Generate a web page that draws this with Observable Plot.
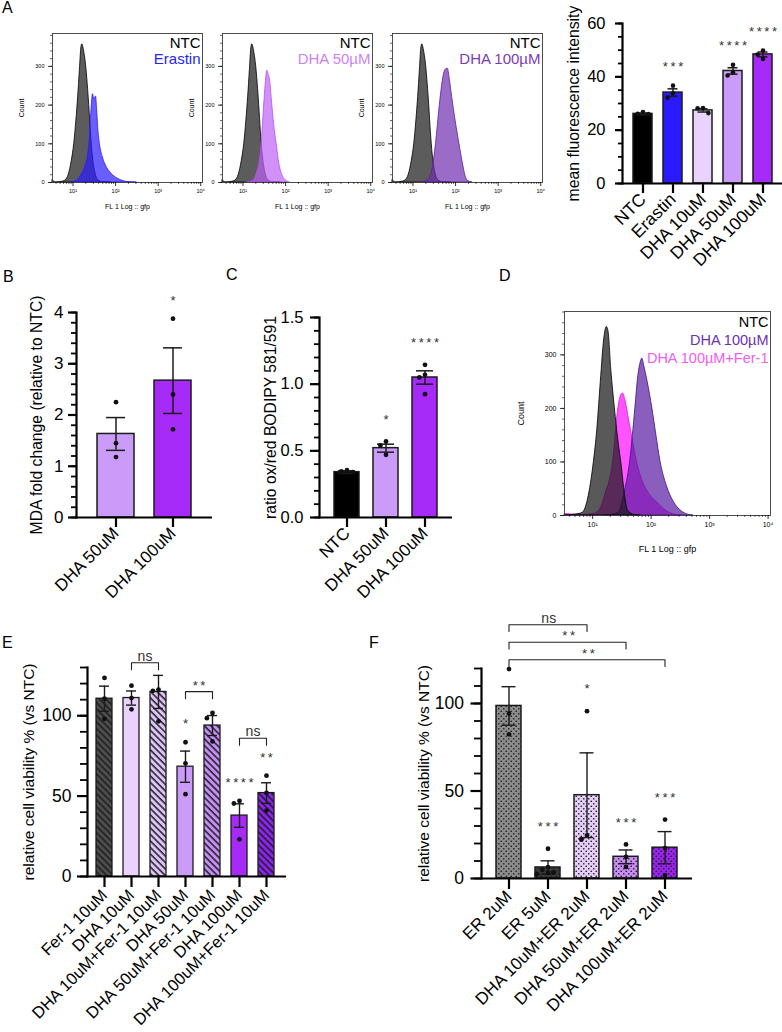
<!DOCTYPE html>
<html lang="en">
<head>
<meta charset="utf-8">
<title>DHA, lipid peroxidation and cell viability</title>
<script src="https://cdn.jsdelivr.net/npm/d3@7"></script>
<script src="https://cdn.jsdelivr.net/npm/@observablehq/plot@0.6"></script>
<style>
  html, body { margin: 0; background: #fff; }
  #fig { position: relative; width: 782px; height: 1032px; overflow: hidden; font-family: "Liberation Sans", Arial, sans-serif; }
  .panel { position: absolute; }
  .panel svg { overflow: visible; }
  .letter { position: absolute; font-size: 16px; line-height: 1; color: #000; }
</style>
</head>
<body>
<div id="fig"></div>
<script>
const FONT = '"Liberation Sans", Arial, Helvetica, sans-serif';

// ---------- Flow cytometry histograms: [FL1 intensity, event count] ----------
const ntcA = [[3.35,6],[3.6,2],[3.98,0],[5.62,2],[6.61,5],[7.94,20],[9.33,55],[10.7,100],[12.0,160],[13.2,220],[14.5,290],[15.8,350],[16.6,357],[17.8,345],[20.4,300],[24.0,200],[26.3,130],[28.8,75],[31.6,40],[35.5,15],[39.8,5],[50.1,1],[79.4,0]];
const erastinA = [[8.91,0],[12.6,5],[15.8,20],[20.0,45],[22.9,75],[25.1,120],[26.9,180],[29.5,228],[31.6,215],[34.7,222],[37.2,180],[39.8,130],[42.7,100],[50.1,65],[63.1,38],[81.3,22],[112,10],[148,4],[200,1],[316,0]];
const dha50A = [[12.6,0],[17.8,5],[21.4,25],[25.1,60],[27.5,100],[30.2,170],[33.9,250],[37.2,289],[39.8,280],[42.7,268],[47.9,210],[53.7,150],[61.7,100],[70.8,50],[83.2,20],[100,6],[126,0]];
const dha100A = [[15.8,0],[22.4,5],[28.2,30],[34.7,100],[42.7,200],[51.3,270],[58.9,292],[66.1,294],[72.4,270],[83.2,220],[100,160],[123,100],[148,50],[170,18],[191,5],[251,0]];

const ntcD = [[3.31,0],[5.25,2],[6.76,5],[8.32,30],[10.5,100],[12.0,160],[13.8,250],[15.8,330],[17.4,352],[18.6,345],[20.9,270],[24.0,200],[27.5,140],[31.6,90],[35.5,40],[40.7,8],[52.5,1],[66.1,0]];
const dha100D = [[16.6,0],[27.5,5],[34.7,40],[43.7,100],[53.7,200],[60.3,260],[66.1,285],[70.8,293],[75.9,280],[87.1,250],[105,200],[123,150],[145,100],[186,55],[245,25],[331,8],[417,2],[525,0]];
const ferD = [[3.4,3],[4.2,2],[6.6,1],[10.5,3],[13.2,10],[16.6,40],[22.4,100],[27.5,200],[30.9,225],[33.1,228],[36.3,215],[41.7,180],[46.8,150],[57.5,100],[74.1,60],[93.3,40],[126,25],[166,12],[245,2],[331,0]];

const flowDomain = [3.3, 11000];
const flowMajor = [10, 100, 1000, 10000];
const countTicks = [0, 100, 200, 300];

// ---------- A (right): mean fluorescence intensity ----------
const mfiGroups = ["NTC", "Erastin", "DHA 10uM", "DHA 50uM", "DHA 100uM"];
const mfiMean = [26.1, 34.1, 27.4, 42.2, 48.4];
const mfiSem = [0.3, 1.4, 0.6, 1.2, 0.9];
const mfiPoints = [[26.8, 26.0, 26.1], [36.7, 32.2, 33.8], [28.3, 26.4, 28.2], [44.5, 40.5, 41.7], [49.9, 46.7, 48.4]];
const mfiStars = ["", "***", "", "****", "****"];

// ---------- B: MDA ----------
const mdaGroups = ["DHA 50uM", "DHA 100uM"];
const mdaMean = [1.63, 2.67];
const mdaSem = [0.32, 0.64];
const mdaPoints = [[2.25, 1.45, 1.18], [3.88, 2.40, 1.72]];
const mdaStars = ["", "*"];

// ---------- C: BODIPY 581/591 ratio ----------
const bodipyGroups = ["NTC", "DHA 50uM", "DHA 100uM"];
const bodipyMean = [0.34, 0.52, 1.05];
const bodipySem = [0.01, 0.03, 0.05];
const bodipyPoints = [[0.355, 0.34, 0.345], [0.57, 0.54, 0.47], [1.145, 1.07, 1.05, 0.925]];
const bodipyStars = ["", "*", "****"];

// ---------- E: viability with Fer-1 ----------
const ferGroups = ["Fer-1 10uM", "DHA 10uM", "DHA 10uM+Fer-1 10uM", "DHA 50uM", "DHA 50uM+Fer-1 10uM", "DHA 100uM", "DHA 100uM+Fer-1 10uM"];
const ferMean = [110.6, 111.0, 114.8, 68.3, 93.9, 37.9, 51.9];
const ferSem = [7.8, 4.4, 10.3, 9.7, 6.2, 7.3, 6.4];
const ferPoints = [[123.5, 110.6, 98.1], [118.7, 111.0, 104.0], [116.3, 115.5, 96.5], [83.5, 70.4, 51.2], [101.7, 98.5, 84.0], [47.0, 45.4, 23.1], [62.7, 52.0, 41.0]];
const ferStars = ["", "", "", "*", "", "****", "**"];
const ferBrackets = [
  {from: "DHA 10uM", to: "DHA 10uM+Fer-1 10uM", y: 133, label: "ns"},
  {from: "DHA 50uM", to: "DHA 50uM+Fer-1 10uM", y: 115, label: "**"},
  {from: "DHA 100uM", to: "DHA 100uM+Fer-1 10uM", y: 86, label: "ns"}
];

// ---------- F: viability with erastin ----------
const erGroups = ["ER 2uM", "ER 5uM", "DHA 10uM+ER 2uM", "DHA 50uM+ER 2uM", "DHA 100uM+ER 2uM"];
const erMean = [98.6, 6.3, 47.6, 12.4, 17.6];
const erSem = [11.0, 3.8, 24.2, 3.9, 9.2];
const erPoints = [[119.7, 94.3, 82.4], [17.0, 6.5, 5.0, 3.5, 2.5, 3.2], [95.6, 24.6, 22.2], [19.5, 12.3, 6.6], [33.7, 17.4, 1.9]];
const erStars = ["", "***", "*", "***", "***"];
const erBrackets = [
  {from: "ER 2uM", to: "DHA 10uM+ER 2uM", y: 145, label: "ns"},
  {from: "ER 2uM", to: "DHA 50uM+ER 2uM", y: 135, label: "**"},
  {from: "ER 2uM", to: "DHA 100uM+ER 2uM", y: 125, label: "**"}
];

// ---------- styles ----------
const mfiStyle = [["#000000", "solid"], ["#2b1aff", "solid"], ["#e9d3fc", "solid"], ["#cb9bfa", "solid"], ["#a62bf8", "solid"]];
const mdaStyle = [["#cb9bfa", "solid"], ["#a62bf8", "solid"]];
const bodipyStyle = [["#000000", "solid"], ["#cb9bfa", "solid"], ["#a62bf8", "solid"]];
const ferStyle = [["#4d4d4d", "hatch"], ["#e9d3fc", "solid"], ["#dec4f8", "hatch"], ["#cb9bfa", "solid"], ["#c48ff6", "hatch"], ["#a62bf8", "solid"], ["#8c24ef", "hatch"]];
const erStyle = [["#8c8c8c", "dots"], ["#3a3a3a", "dots"], ["#e7cffb", "dots"], ["#c98cf6", "dots"], ["#9a22f0", "dots"]];

const fig = document.getElementById("fig");
function place(node, left, top) {
  const d = document.createElement("div");
  d.className = "panel";
  d.style.left = left + "px";
  d.style.top = top + "px";
  d.appendChild(node);
  fig.appendChild(d);
}
function letter(t, left, top) {
  const d = document.createElement("div");
  d.className = "letter";
  d.textContent = t;
  d.style.left = left + "px";
  d.style.top = top + "px";
  fig.appendChild(d);
}

// pattern fills for hatched (Fer-1) and dotted (erastin) bars
const patternDefs = [];
function barFill([color, kind], key) {
  if (kind === "solid") return color;
  const id = `${kind}-${key}`;
  if (kind === "hatch") {
    patternDefs.push(`<pattern id="${id}" patternUnits="userSpaceOnUse" width="4.6" height="4.6" patternTransform="rotate(-45)"><rect width="4.6" height="4.6" fill="${color}"/><line x1="1" y1="0" x2="1" y2="4.6" stroke="#1c1c1c" stroke-width="1.5"/></pattern>`);
  } else {
    patternDefs.push(`<pattern id="${id}" patternUnits="userSpaceOnUse" width="5" height="5"><rect width="5" height="5" fill="${color}"/><circle cx="1.25" cy="1.25" r="0.85" fill="#222"/><circle cx="3.75" cy="3.75" r="0.85" fill="#222"/></pattern>`);
  }
  return `url(#${id})`;
}

const spacedStars = s => /^\*+$/.test(s) ? s.split("").join("\u2009") : s;

// spread replicate dots sideways when they would overlap
function spreadDots(groups, points, ppu, r) {
  const out = [];
  groups.forEach((g, i) => {
    const placed = [];
    [...points[i]].sort((a, b) => b - a).forEach(v => {
      const used = new Set(placed.filter(p => Math.abs(p.v - v) * ppu < 2 * r + 0.6).map(p => p.slot));
      const slot = [0, -1, 1, -2, 2, -3, 3].find(s => !used.has(s));
      const d = {group: g, v, slot};
      placed.push(d);
      out.push(d);
    });
  });
  return out;
}

function flowPlot(o) {
  const sup = {1: "\u00b9", 2: "\u00b2", 3: "\u00b3", 4: "\u2074"};
  const minors = [];
  for (const base of [1, 10, 100, 1000]) for (let k = 2; k <= 9; k++) if (base * k >= flowDomain[0]) minors.push(base * k);
  const marks = o.series.map(s => Plot.areaY(s.data, {
    x: d => d[0], y: d => d[1], fill: s.fill, fillOpacity: s.opacity,
    stroke: s.stroke, strokeWidth: 0.8, curve: "monotone-x"
  }));
  marks.push(
    Plot.frame({stroke: "#3a3a3a", strokeWidth: 0.9}),
    Plot.axisY(d3.range(0, o.yMax, 20), {tickSize: 2, tickFormat: () => "", strokeWidth: 0.6, label: null}),
    Plot.axisY(countTicks, {tickSize: 4, tickPadding: 4, fontSize: o.tickFont, strokeWidth: 0.8, label: null}),
    Plot.axisX(minors, {tickSize: 2, tickFormat: () => "", strokeWidth: 0.6, label: null}),
    Plot.axisX(flowMajor, {tickSize: 4, tickPadding: 3, fontSize: o.tickFont, strokeWidth: 0.8, label: null,
      tickFormat: d => "10" + sup[Math.round(Math.log10(d))]}),
    Plot.text(["Count"], {text: d => d, frameAnchor: "left", textAnchor: "middle", rotate: -90, dx: o.countDx, fontSize: o.labelFont}),
    Plot.text(["FL 1 Log :: gfp"], {text: d => d, frameAnchor: "bottom", textAnchor: "middle", dy: o.xLabelDy, fontSize: o.labelFont})
  );
  o.legend.forEach((l, i) => marks.push(Plot.text([l.text], {
    text: d => d, frameAnchor: "top-right", textAnchor: "end", lineAnchor: "top",
    dx: -2, dy: o.legendTop + i * o.legendStep, fill: l.color, fontSize: o.legendFont
  })));
  return Plot.plot({
    width: o.width, height: o.height,
    marginTop: o.mt, marginRight: o.mr, marginBottom: o.mb, marginLeft: o.ml,
    style: {background: "transparent", fontFamily: FONT, color: "#000", overflow: "visible"},
    x: {type: "log", domain: flowDomain, axis: null},
    y: {domain: [0, o.yMax], axis: null},
    marks
  });
}

function barPanel(o) {
  const [y0, y1] = o.yDomain;
  const ppu = (o.height - o.mt - o.mb) / (y1 - y0);
  const n = o.groups.length;
  const step = (o.width - o.ml) / (n - o.pi + 2 * o.po);
  const rows = o.groups.map((g, i) => ({
    group: g, mean: o.means[i], lo: o.means[i] - o.sems[i], hi: o.means[i] + o.sems[i],
    fill: barFill(o.styles[i], `${o.key}-${i}`), star: spacedStars(o.stars[i]),
    top: Math.max(o.means[i] + o.sems[i], ...o.points[i])
  }));
  const dots = spreadDots(o.groups, o.points, ppu, o.r);
  const slots = [...new Set(dots.map(d => d.slot))];
  const ink = "#1b1b1b";
  const marks = [
    Plot.barY(rows, {x: "group", y: "mean", fill: "fill", stroke: ink, strokeWidth: o.barStroke}),
    Plot.ruleX(rows, {x: "group", y1: "lo", y2: "hi", stroke: ink, strokeWidth: o.errStroke}),
    Plot.tickY(rows, {x: "group", y: "hi", stroke: ink, strokeWidth: o.errStroke, insetLeft: o.capInset, insetRight: o.capInset}),
    Plot.tickY(rows, {x: "group", y: "lo", stroke: ink, strokeWidth: o.errStroke, insetLeft: o.capInset, insetRight: o.capInset}),
    ...slots.map(s => Plot.dot(dots.filter(d => d.slot === s), {x: "group", y: "v", r: o.r, fill: "#111", dx: s * (2 * o.r + 0.8)})),
    Plot.ruleY([y0], {stroke: "#000", strokeWidth: 2.2}),
    Plot.frame({anchor: "left", stroke: "#000", strokeWidth: 2.2}),
    Plot.axisY(d3.range(y0, y1 + 1e-9, o.minor), {tickSize: o.minorSize, tickFormat: () => "", strokeWidth: 1.8, label: null}),
    Plot.axisY(o.major, {tickSize: o.majorSize, tickPadding: o.tickPad, fontSize: o.tickFont, strokeWidth: 2.2, label: null, tickFormat: o.fmt}),
    Plot.axisX({tickSize: o.xTick, tickPadding: o.xPad, tickRotate: -45, fontSize: o.xFont, strokeWidth: 2.2, label: null}),
    Plot.text([o.yLabel], {text: d => d, frameAnchor: "left", textAnchor: "middle", rotate: -90, dx: o.yLabelDx, fontSize: o.yLabelFont}),
    Plot.text(rows.filter(d => d.star), {x: "group", y: "top", text: "star", dy: o.starDy, fontSize: 13, fill: "#333"})
  ];
  if (o.brackets) {
    const drop = o.bracketDrop;
    const lines = o.brackets.flatMap((b, k) => [
      {k, x: b.from, y: b.y - drop}, {k, x: b.from, y: b.y}, {k, x: b.to, y: b.y}, {k, x: b.to, y: b.y - drop}
    ]);
    marks.push(Plot.line(lines, {x: "x", y: "y", z: "k", stroke: "#222", strokeWidth: 1.1}));
    o.brackets.forEach(b => {
      const span = o.groups.indexOf(b.to) - o.groups.indexOf(b.from);
      marks.push(Plot.text([b], {
        x: "from", y: "y", text: d => spacedStars(d.label), dx: span * step / 2, dy: -2,
        lineAnchor: "bottom", fontSize: b.label === "ns" ? 14 : 13, fill: "#333"
      }));
    });
  }
  return Plot.plot({
    width: o.width, height: o.height,
    marginTop: o.mt, marginRight: 0, marginBottom: o.mb, marginLeft: o.ml,
    style: {background: "transparent", fontFamily: FONT, color: "#000", overflow: "visible"},
    x: {domain: o.groups, paddingInner: o.pi, paddingOuter: o.po, align: o.align, axis: null},
    y: {domain: o.yDomain, axis: null},
    color: {type: "identity"},
    marks
  });
}

// ---------- A: histograms ----------
const histA = {width: 210, height: 200, mt: 13, mr: 8, mb: 38, ml: 52, yMax: 385,
  tickFont: 5.5, labelFont: 7, countDx: -31, xLabelDy: 26, legendFont: 15, legendTop: 4, legendStep: 16};
const ntcSeries = {data: ntcA, fill: "#5c5c5c", opacity: 1, stroke: "#000"};
place(flowPlot({...histA, series: [ntcSeries, {data: erastinA, fill: "#2b1aff", opacity: 0.7, stroke: "#2b1aff"}],
  legend: [{text: "NTC", color: "#000"}, {text: "Erastin", color: "#2323ff"}]}), 0, 20);
place(flowPlot({...histA, series: [ntcSeries, {data: dha50A, fill: "#be62f5", opacity: 0.7, stroke: "#b84df2"}],
  legend: [{text: "NTC", color: "#000"}, {text: "DHA 50\u00b5M", color: "#cf7ff7"}]}), 170, 20);
place(flowPlot({...histA, series: [ntcSeries, {data: dha100A, fill: "#6f2db0", opacity: 0.7, stroke: "#5a1f9a"}],
  legend: [{text: "NTC", color: "#000"}, {text: "DHA 100\u00b5M", color: "#7b3bb5"}]}), 340, 20);

// ---------- D: histogram (treated samples underneath, NTC translucent on top) ----------
place(flowPlot({width: 280, height: 280, mt: 21, mr: 10, mb: 55, ml: 64, yMax: 381,
  tickFont: 7, labelFont: 9, countDx: -43, xLabelDy: 36, legendFont: 14.5, legendTop: 5, legendStep: 18,
  series: [
    {data: ferD, fill: "#ff0cff", opacity: 0.7, stroke: "#e010e0"},
    {data: dha100D, fill: "#58199f", opacity: 0.7, stroke: "#3d1080"},
    {data: ntcD, fill: "#191919", opacity: 0.72, stroke: "#000"}
  ],
  legend: [{text: "NTC", color: "#000"}, {text: "DHA 100\u00b5M", color: "#6e31b0"}, {text: "DHA 100\u00b5M+Fer-1", color: "#f25cf2"}]
}), 500, 290);

// ---------- A: MFI bars ----------
place(barPanel({key: "mfi", groups: mfiGroups, means: mfiMean, sems: mfiSem, points: mfiPoints, stars: mfiStars, styles: mfiStyle,
  width: 242, height: 290, mt: 23, mb: 107, ml: 82, pi: 0.367, po: 0.35, align: 0.5,
  yDomain: [0, 60], major: [0, 20, 40, 60], minor: 5, majorSize: 7, minorSize: 4, tickPad: 10, tickFont: 16.5,
  fmt: d3.format("d"),
  xTick: 10, xPad: 3, xFont: 17.5, yLabel: "mean fluorescence intensity", yLabelDx: -49, yLabelFont: 15.8,
  r: 2.3, barStroke: 1.5, errStroke: 1.5, capInset: 4.5, starDy: -19}), 540, 0);

// ---------- B ----------
place(barPanel({key: "mda", groups: mdaGroups, means: mdaMean, sems: mdaSem, points: mdaPoints, stars: mdaStars, styles: mdaStyle,
  width: 212, height: 340, mt: 32, mb: 103, ml: 76, pi: 0.345, po: 0.345, align: 0.5,
  yDomain: [0, 4], major: [0, 1, 2, 3, 4], minor: 0.2, majorSize: 8, minorSize: 5, tickPad: 5, tickFont: 17,
  fmt: d3.format("d"),
  xTick: 10, xPad: 3, xFont: 17, yLabel: "MDA fold change (relative to NTC)", yLabelDx: -39.5, yLabelFont: 15.7,
  r: 2.4, barStroke: 1.5, errStroke: 1.5, capInset: 9, starDy: -18}), 0, 280);

// ---------- C ----------
place(barPanel({key: "bodipy", groups: bodipyGroups, means: bodipyMean, sems: bodipySem, points: bodipyPoints, stars: bodipyStars, styles: bodipyStyle,
  width: 227, height: 340, mt: 37, mb: 103, ml: 94, pi: 0.35, po: 0.34, align: 0.5,
  yDomain: [0, 1.5], major: [0, 0.5, 1.0, 1.5], minor: 0.1, majorSize: 9, minorSize: 5, tickPad: 7, tickFont: 16.5,
  fmt: d3.format(".1f"),
  xTick: 10, xPad: 3, xFont: 17, yLabel: "ratio ox/red BODIPY 581/591", yLabelDx: -49, yLabelFont: 15.7,
  r: 2.4, barStroke: 1.5, errStroke: 1.5, capInset: 4, starDy: -22}), 225, 280);

// ---------- E ----------
place(barPanel({key: "fer", groups: ferGroups, means: ferMean, sems: ferSem, points: ferPoints, stars: ferStars, styles: ferStyle,
  brackets: ferBrackets, bracketDrop: 4.4,
  width: 286, height: 392, mt: 27, mb: 156, ml: 87, pi: 0.41, po: 0.39, align: 0.43,
  yDomain: [0, 130], major: [0, 50, 100], minor: 10, majorSize: 10, minorSize: 7, tickPad: 6, tickFont: 17.5,
  fmt: d3.format("d"),
  xTick: 11, xPad: 5, xFont: 16.5, yLabel: "relative cell viability % (vs NTC)", yLabelDx: -58, yLabelFont: 15.5,
  r: 2.4, barStroke: 1.3, errStroke: 1.4, capInset: 3, starDy: -18}), 0, 640);

// ---------- F ----------
place(barPanel({key: "er", groups: erGroups, means: erMean, sems: erSem, points: erPoints, stars: erStars, styles: erStyle,
  brackets: erBrackets, bracketDrop: 3.8,
  width: 312, height: 432, mt: 68, mb: 154, ml: 101, pi: 0.37, po: 0.34, align: 0.5,
  yDomain: [0, 120], major: [0, 50, 100], minor: 10, majorSize: 10.5, minorSize: 7, tickPad: 7, tickFont: 17.5,
  fmt: d3.format("d"),
  xTick: 11, xPad: 4, xFont: 17, yLabel: "relative cell viability % (vs NTC)", yLabelDx: -57.5, yLabelFont: 15.5,
  r: 2.4, barStroke: 1.5, errStroke: 1.4, capInset: 5.5, starDy: -22}), 380, 600);

fig.insertAdjacentHTML("afterbegin", `<svg width="0" height="0" style="position:absolute"><defs>${patternDefs.join("")}</defs></svg>`);

letter("A", 2, 0);
letter("B", 3, 269);
letter("C", 226, 267);
letter("D", 499, 268);
letter("E", 2, 635);
letter("F", 369, 635);
</script>
</body>
</html>
